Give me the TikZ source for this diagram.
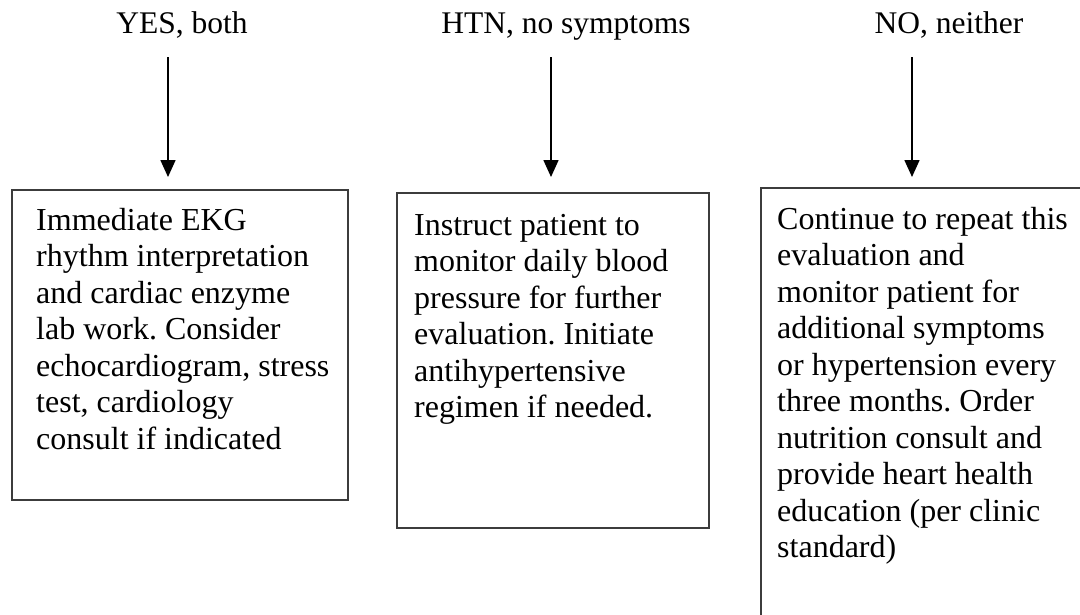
\documentclass[tikz,border=0pt]{standalone}
\usepackage{fontspec}
\setmainfont{Liberation Serif}
\usetikzlibrary{arrows.meta, positioning}
\definecolor{BoxGray}{RGB}{60,60,60}
\frenchspacing

\begin{document}
\begin{tikzpicture}[x=1pt, y=-1pt,
		box/.style={draw=BoxGray, line width=1.5pt, rectangle, anchor=north west, inner sep=0pt},
		body/.style={anchor=north west, align=left, inner sep=0pt, font=\fontsize{32}{36.5}\selectfont},
		choice/.style={anchor=base, inner sep=0pt, font=\fontsize{31.5}{36.5}\selectfont},
		flow/.style={line width=1.6pt, -{Triangle[length=17pt, width=15pt]}}]
		\useasboundingbox (0,0) rectangle (1080,614);
		\clip (0,0) rectangle (1080,614);
		% answers
		\node[choice] (yes) at (182,33) {YES, both};
		\node[choice] (htn) at (566,33) {HTN, no symptoms};
		\node[choice] (no) at (949,33) {NO, neither};
		\coordinate (yesFrom) at (168,57);
		\coordinate (yesTo) at (168,177);
		\coordinate (htnFrom) at (551,57);
		\coordinate (htnTo) at (551,177);
		\coordinate (noFrom) at (912,57);
		\coordinate (noTo) at (912,177);
		\draw[flow] (yesFrom) -- (yesTo);
		\draw[flow] (htnFrom) -- (htnTo);
		\draw[flow] (noFrom) -- (noTo);
		% actions
		\node[box, minimum width=336pt, minimum height=310pt] (yesBox) at (11,189) {};
		\node[box, minimum width=312pt, minimum height=335pt] (htnBox) at (396,192) {};
		\node[box, minimum width=340pt, minimum height=450pt] (noBox) at (760,187) {};
		\node[body, below right=19pt and 25pt of yesBox.north west] (yesText) {Immediate EKG\\rhythm interpretation\\and cardiac enzyme\\lab work. Consider\\echocardiogram, stress\\test, cardiology\\consult if indicated};
		\node[body, below right=22pt and 18pt of htnBox.north west] (htnText) {Instruct patient to\\monitor daily blood\\pressure for further\\evaluation. Initiate\\antihypertensive\\regimen if needed.};
		\node[body, below right=20pt and 17pt of noBox.north west] (noText) {Continue to repeat this\\evaluation and\\monitor patient for\\additional symptoms\\or hypertension every\\three months. Order\\nutrition consult and\\provide heart health\\education (per clinic\\standard)};
	\end{tikzpicture}
\end{document}
